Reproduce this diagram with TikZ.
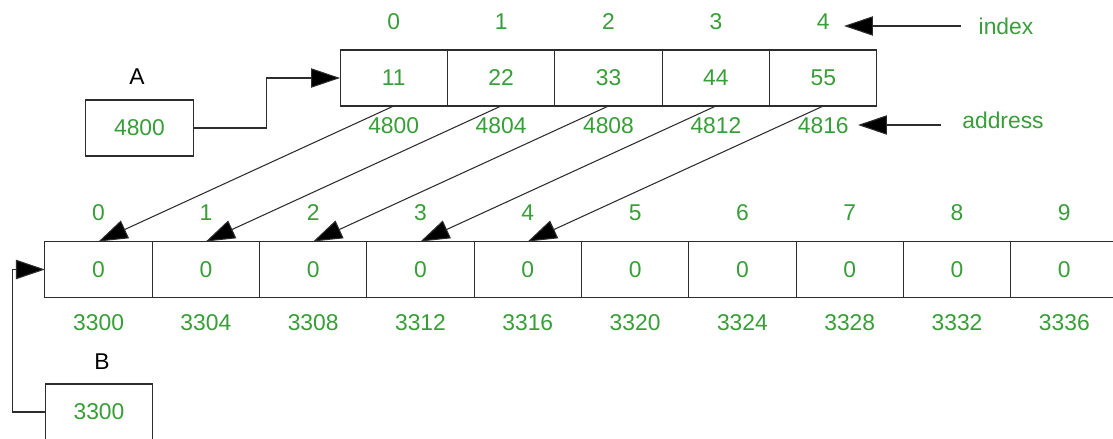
\documentclass[tikz,border=0pt]{standalone}
\usepackage{fontspec}
\setmainfont{Liberation Sans}
\usetikzlibrary{arrows.meta,positioning}
\definecolor{numgreen}{RGB}{56,158,56}
\definecolor{linegray}{RGB}{45,45,45}
\begin{document}
\begin{tikzpicture}[x=0.02cm, y=-0.02cm,
        cell/.style={draw=linegray, line width=0.6pt, minimum width=2.146cm,
                     minimum height=1.12cm, inner sep=0pt, outer sep=0pt,
                     text=numgreen, font=\fontsize{13}{15}\selectfont},
        lbl/.style={text=#1, inner sep=1pt, font=\fontsize{13}{15}\selectfont},
        lbl/.default=numgreen,
        ptr/.style={draw=linegray, line width=0.6pt,
                    -{Triangle[length=16.5pt, width=11pt, fill=black]}},
    ]
        \clip (0,0) rectangle (1113,439);
        \fill[white] (0,0) rectangle (1113,439);

        % array A
        \foreach \v/\ad [count=\i from 0] in {11/4800, 22/4804, 33/4808, 44/4812, 55/4816} {
            \node[cell] (a\i) at (393.7+107.4*\i, 78) {\v};
            \node[lbl] (ai\i) at (393.7+107.4*\i, 22) {\i};
            \node[lbl] (aa\i) at (393.7+107.4*\i, 126) {\ad};
        }
        \node[lbl=black] (nameA) at (137, 77) {A};
        \node[cell] (boxA) at (139.5, 128) {4800};

        % array B
        \foreach \ad [count=\j from 0] in {3300,3304,3308,3312,3316,3320,3324,3328,3332,3336} {
            \node[cell] (b\j) at (98.6+107.3*\j, 269.5) {0};
            \node[lbl] (bi\j) at (98.6+107.3*\j, 213) {\j};
            \node[lbl] (ba\j) at (98.6+107.3*\j, 323) {\ad};
        }
        \node[lbl=black] (nameB) at (102, 362) {B};
        \node[cell] (boxB) at (99, 412) {3300};

        % pointers
        \draw[ptr] (boxA.east) -- ++(73,0) |- (a0.west);
        \draw[ptr] (boxB.west) -- ++(-33,0) |- (b0.west);
        \foreach \i in {0,...,4}
            \draw[ptr] (a\i.south) -- (b\i.north);

        % notes
        \node[lbl] (idx) at (1006, 26) {index};
        \coordinate (idxtip) at (844, 26);
        \draw[ptr] ([xshift=-9pt]idx.west) -- (idxtip);
        \node[lbl] (adr) at (1003, 120) {address};
        \coordinate (adrtip) at (858, 125);
        \draw[ptr] ([shift={(-19,5)}]adr.west) -- (adrtip);
    \end{tikzpicture}
\end{document}
